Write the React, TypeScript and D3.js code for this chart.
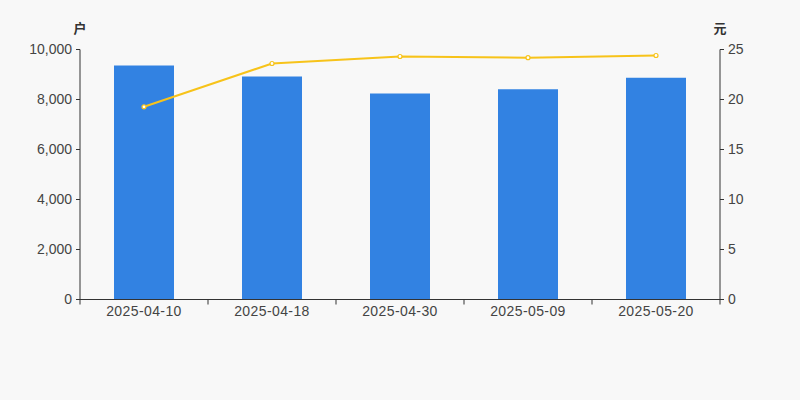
import React from "react";
import * as d3 from "d3";

const categories = ["2025-04-10", "2025-04-18", "2025-04-30", "2025-05-09", "2025-05-20"];
const holders = [9360, 8920, 8240, 8410, 8870];
const prices = [19.27, 23.6, 24.3, 24.18, 24.4];
const leftTicks = [0, 2000, 4000, 6000, 8000, 10000];
const rightTicks = [0, 5, 10, 15, 20, 25];
const leftUnit = "户";
const rightUnit = "元";

const W = 800;
const H = 400;
const M = { left: 80, right: 720, top: 49.5, bottom: 299.5 };
const FONT = "'Liberation Sans', Arial, sans-serif";
const AXIS = "#333";
const TEXT = "#444";

export default function App() {
  const x = d3.scaleBand<string>().domain(categories).range([M.left, M.right]).paddingInner(0).paddingOuter(0);
  const yL = d3.scaleLinear().domain([0, 10000]).range([M.bottom, M.top]);
  const yR = d3.scaleLinear().domain([0, 25]).range([M.bottom, M.top]);
  const barW = 60;
  const line = d3
    .line<number>()
    .x((_, i) => (x(categories[i]) as number) + x.bandwidth() / 2)
    .y((d) => yR(d));
  const fmt = d3.format(",");

  return (
    <svg width={W} height={H} style={{ display: "block", position: "absolute", left: 0, top: 0 }} fontFamily={FONT}>
      <rect width={W} height={H} fill="#f8f8f8" />
      {holders.map((v, i) => (
        <rect
          key={i}
          x={(x(categories[i]) as number) + x.bandwidth() / 2 - barW / 2}
          y={yL(v)}
          width={barW}
          height={yL(0) - yL(v)}
          fill="#3282e2"
        />
      ))}
      {/* left axis */}
      <line x1={M.left} x2={M.left} y1={M.top} y2={M.bottom} stroke={AXIS} />
      {leftTicks.map((t) => (
        <g key={t}>
          <line x1={M.left - 4} x2={M.left} y1={yL(t)} y2={yL(t)} stroke={AXIS} />
          <text x={M.left - 8} y={yL(t)} dy="0.35em" textAnchor="end" fontSize={14} fill={TEXT}>
            {fmt(t)}
          </text>
        </g>
      ))}
      <text x={80} y={33} textAnchor="middle" fontSize={13} fontWeight="bold" fill={AXIS} fontFamily="'Noto Sans CJK SC', sans-serif">
        {leftUnit}
      </text>
      {/* right axis */}
      <line x1={M.right} x2={M.right} y1={M.top} y2={M.bottom} stroke={AXIS} />
      {rightTicks.map((t) => (
        <g key={t}>
          <line x1={M.right} x2={M.right + 4} y1={yR(t)} y2={yR(t)} stroke={AXIS} />
          <text x={M.right + 8} y={yR(t)} dy="0.35em" textAnchor="start" fontSize={14} fill={TEXT}>
            {t}
          </text>
        </g>
      ))}
      <text x={720} y={33} textAnchor="middle" fontSize={13} fontWeight="bold" fill={AXIS} fontFamily="'Noto Sans CJK SC', sans-serif">
        {rightUnit}
      </text>
      {/* x axis */}
      <line x1={M.left} x2={M.right} y1={M.bottom} y2={M.bottom} stroke={AXIS} />
      {categories.map((c, i) => (
        <line key={"t" + i} x1={x(c) as number} x2={x(c) as number} y1={M.bottom} y2={M.bottom + 5} stroke={AXIS} />
      ))}
      <line x1={M.right} x2={M.right} y1={M.bottom} y2={M.bottom + 5} stroke={AXIS} />
      {categories.map((c) => (
        <text key={c} x={(x(c) as number) + x.bandwidth() / 2} y={M.bottom + 12} dy="0.35em" textAnchor="middle" fontSize={14} fill={TEXT} letterSpacing={0.4}>
          {c}
        </text>
      ))}
      {/* line */}
      <path d={line(prices) || ""} fill="none" stroke="#f7c31a" strokeWidth={2} />
      {prices.map((p, i) => (
        <circle
          key={i}
          cx={(x(categories[i]) as number) + x.bandwidth() / 2}
          cy={yR(p)}
          r={2}
          fill="#fff"
          stroke="#f7c31a"
          strokeWidth={1.2}
        />
      ))}
    </svg>
  );
}
